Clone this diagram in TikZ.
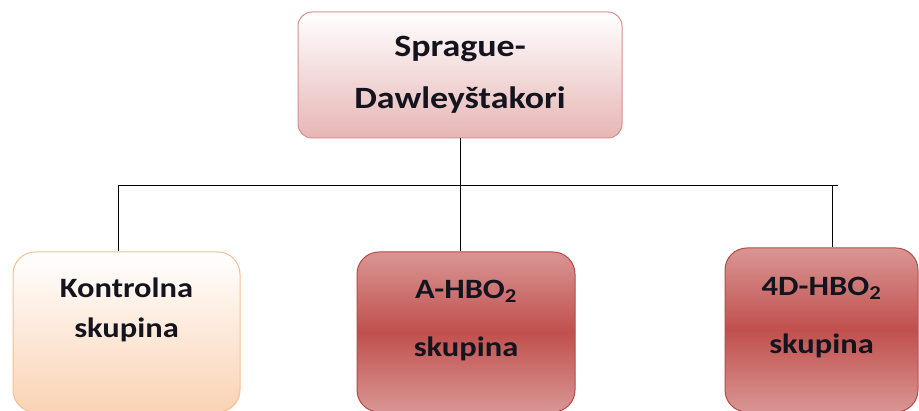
\documentclass[tikz,border=0pt]{standalone}
\usepackage{fontspec}
\setmainfont{Carlito}[FakeStretch=1.16]
\usetikzlibrary{positioning}
\definecolor{rootline}{HTML}{D98E8E}
\definecolor{rootfill}{HTML}{E6B6B5}
\definecolor{ctrlline}{HTML}{F7BF91}
\definecolor{ctrlfill}{HTML}{FAD3B4}
\definecolor{grpline}{HTML}{B54A48}
\definecolor{grplight}{HTML}{D99694}
\definecolor{grpdark}{HTML}{C0504D}
\definecolor{labelink}{HTML}{14141E}

\begin{document}
\begin{tikzpicture}[x=1pt, y=1pt]
  \tikzset{every node/.style={inner sep=0pt, text=labelink, align=center,
      font=\bfseries\fontsize{28}{40}\selectfont},
    rootbox/.style={draw=rootline, line width=1pt, rounded corners=14pt,
      top color=white, bottom color=rootfill,
      minimum width=324pt, minimum height=126pt,
      font=\bfseries\fontsize{31}{52}\selectfont},
    ctrlbox/.style={draw=ctrlline, line width=1pt, rounded corners=22pt,
      top color=white, bottom color=ctrlfill,
      minimum width=227pt, minimum height=160pt},
    grpbox/.style={draw=grpline, line width=1pt, rounded corners=22pt,
      top color=grplight, bottom color=grplight, middle color=grpdark},
    boxlabel/.style={anchor=north},
    link/.style={draw=black, line width=0.9pt}}
  \useasboundingbox (0,0) rectangle (919,410);
  % boxes
  \node[rootbox] (root) at (460,335) {Sprague-\\Dawleyštakori};
  \node[ctrlbox] (ctrl) at (126.5,78) {};
  \node[grpbox, minimum width=218pt, minimum height=160pt] (ahbo) at (466,78) {};
  \node[grpbox, minimum width=193pt, minimum height=164pt] (dhbo) at (821.5,80) {};
  % labels
  \node[boxlabel] (ctrllabel) at (126.5,132) {Kontrolna\\skupina};
  \node[boxlabel] (ahbolabel) at (466,130) {A-HBO\textsubscript{2}\\[18pt]skupina};
  \node[boxlabel] (dhbolabel) at (821.5,133) {4D-HBO\textsubscript{2}\\[18pt]skupina};
  % connectors
  \coordinate (busL) at (118,225);
  \coordinate (busR) at (838,225);
  \coordinate (dropR) at (832,225);
  \draw[link] (root.south) -- (root.south |- busL);
  \draw[link] (busL) -- (busR);
  \draw[link] (busL) -- (busL |- ctrl.north);
  \draw[link] (root.south |- busL) -- (root.south |- ahbo.north);
  \draw[link] (dropR) -- (dropR |- dhbo.north);
\end{tikzpicture}
\end{document}
